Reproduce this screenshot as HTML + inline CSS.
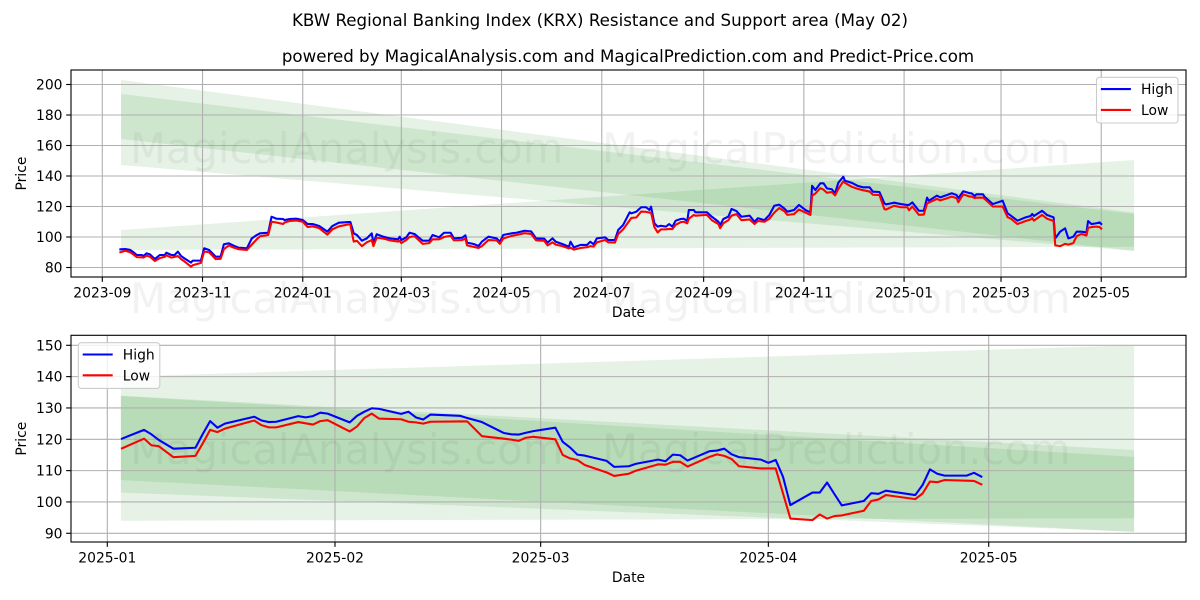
<!DOCTYPE html>
<html lang="en">
<head>
<meta charset="utf-8">
<title>KBW Regional Banking Index (KRX) Resistance and Support area</title>
<style>
html,body{margin:0;padding:0;background:#fff;width:1200px;height:600px;overflow:hidden}
svg{display:block}
text{font-family:"DejaVu Sans","Liberation Sans",sans-serif;fill:#000}
</style>
</head>
<body>
<svg id="fig" width="1200" height="600" viewBox="0 0 1200 600" xmlns="http://www.w3.org/2000/svg">
  <rect x="0" y="0" width="1200" height="600" fill="#fff"/>
  <text x="600" y="26" font-size="16.67" text-anchor="middle">KBW Regional Banking Index (KRX) Resistance and Support area (May 02)</text>
  <text x="628" y="62" font-size="16.67" text-anchor="middle">powered by MagicalAnalysis.com and MagicalPrediction.com and Predict-Price.com</text>
  <g id="top-axes"></g>
  <g id="bottom-axes"></g>
  <g font-size="41.67" opacity="0.07">
    <text x="130" y="163" style="fill:#555">MagicalAnalysis.com</text>
    <text x="602" y="163" style="fill:#555">MagicalPrediction.com</text>
    <text x="130" y="313" style="fill:#555">MagicalAnalysis.com</text>
    <text x="602" y="313" style="fill:#555">MagicalPrediction.com</text>
    <text x="130" y="464" style="fill:#555">MagicalAnalysis.com</text>
    <text x="602" y="464" style="fill:#555">MagicalPrediction.com</text>
  </g>
</svg>
<script>
// ---------- full-history chart data (days counted from 2023-09-01) ----------
const fullDays = [
 11,14,17,19,21,24,25,27,29,32,
 35,38,39,42,44,46,48,50,54,55,
 60,62,65,69,72,74,77,80,83,88,
 91,94,96,101,103,106,110,111,114,118,
 122,125,128,132,137,140,144,150,151,153,
 155,158,161,164,165,167,171,175,180,181,
 182,185,187,190,192,195,199,201,205,208,
 212,214,219,221,222,226,229,231,235,240,
 242,244,249,252,257,261,264,269,271,274,
 276,280,284,285,287,291,295,297,299,301,
 306,308,312,314,317,321,322,325,328,331,
 333,334,336,338,340,343,345,347,349,352,
 354,356,357,360,361,368,371,375,376,378,
 381,383,386,389,394,397,399,403,406,409,
 412,415,417,421,424,428,431,432,434,437,
 439,441,444,446,448,451,452,456,460,463,
 467,469,473,476,477,482,486,490,491,493,
 497,500,502,503,508,510,513,517,520,521,
 524,528,529,531,532,536,537,542,548,551,
 553,557,562,565,566,567,572,575,579,580,
 583,586,588,591,593,596,599,600,602,605,607,608];
const fullHigh = [
 91.9,92.1,91.5,90,88.2,88.2,87.5,89.3,88.6,85.6,
 88.2,88.2,89.7,88.2,88.2,90.4,87.5,86,83.2,84.5,
 84.5,92.6,91.5,87.1,87.1,95.2,95.9,94.3,93,92.6,
 99.1,101.3,102.4,102.8,113.3,112,111.8,111.1,111.8,112,
 111.1,108.5,108.5,107.2,103.5,107.2,109.4,109.8,109.8,102.4,
 101.3,97.6,99.1,102.4,95.9,101.8,100.2,99.1,98.5,100.2,
 98,99.8,102.8,102,100.2,97.6,97.6,101.3,99.8,102.8,
 102.8,99.1,99.5,101.1,96.3,95.4,94.1,96.9,100.2,99.1,
 96.9,101.3,102.4,102.8,104.1,103.7,99.1,98.9,96.3,99.1,
 96.9,95.4,93.6,96.9,93.2,94.8,94.8,96.9,95.2,99.1,
 99.8,98,98,104.6,107.9,116.2,115.5,116.6,119.5,119.5,
 117.7,119.9,109,106.8,107.4,106.8,108.5,106.8,110.7,111.8,
 112,110.5,117.7,117.7,116.2,116.2,113.3,110,107.9,111.8,
 113.3,118.4,117,113.3,114,110,112.3,111.1,114.4,120.5,
 121.2,118.8,116.6,117.7,121,117.7,116.2,133.6,130.8,135.2,
 135.2,131.9,131.3,128.7,135.6,139.5,136.9,135.6,133.4,132.6,
 132.6,129.7,129.5,122.1,121.4,122.5,121.6,121,121,122.7,
 117.2,117.2,125.8,123.8,127.1,126,127.1,128.7,127.5,125.4,
 130,128.7,128.7,126.9,128,128,126.4,121.6,123.8,115.5,
 114,110.7,112.9,113.8,115.1,113.8,117.2,114.4,112.9,99.1,
 103.5,105.7,99.1,100.2,103.5,103.5,103,110.5,108.5,109,109.6,108.5];
const fullLow = [
 90,91,90,88.5,86.8,86.7,86.5,87.8,87,84.3,
 86.2,87,88,86.5,87,87.5,85.5,84,80.5,81.5,
 83,90.5,90,85.5,85.7,92,94.5,93,92,91.5,
 95,98.5,100.5,101.3,110,109.5,108.5,109.5,110.5,110.8,
 110,106.5,107,105.8,101.5,105,107,108.3,108,97,
 97.5,94,96.5,98,94,99.5,99,97.8,97,97.5,
 96,98,100,100.5,98.5,95.5,96,98.5,98.5,100,
 100.8,97.8,98,99,94.5,93.5,92.8,94,98,97.8,
 95.5,99,100.7,101.3,102.5,102,97.8,97.5,94.5,96.5,
 95,94,92.5,93,91.7,92.8,93.3,94,93.7,96.5,
 98,96.5,96.3,102,105,111,112.5,112.8,116.7,116.5,
 116,116,106.5,103,105,105,105.3,105.2,108,109.7,
 110,109,112,114.5,114,114.5,111,108.5,105.8,109,
 111,114,115,111,111.5,108.5,110.5,110,112,116,
 119,117,114.5,115,118,116,114.5,127,128.5,132,
 131,129,129.5,127.3,131.5,136.5,135.5,133,131.5,130.7,
 129.8,127.7,127.5,118.3,118,120.5,119.5,119.5,117.5,120,
 114.5,114.7,122,122.5,125,124,125,126.5,125.5,122.8,
 128,126.5,126.5,125.5,125.8,125.8,125,120,120,113,
 112,108.5,110.5,111.5,112.5,110.7,114.5,112,110.5,94.5,
 94,95.5,95,96,100.5,102,101,106,106.5,106.8,106.5,105.5];

// band edges: [value at first day, value at last day]
const fullBandDays = [11.4, 628];
const fullSupportTop = [104.6, 150.5];
const fullSupportBottom = [91.5, 93.6];
const fullOuterTop = [203, 116];
const fullOuterBottom = [147.2, 90.8];
const fullInnerTop = [193.8, 115.1];
const fullInnerBottom = [164.3, 91];

const fullXTicks = ['2023-09','2023-11','2024-01','2024-03','2024-05','2024-07','2024-09','2024-11','2025-01','2025-03','2025-05'];
const fullYTicks = [80,100,120,140,160,180,200];

// ---------- recent chart data (days counted from 2025-01-01) ----------
const recentDays = [
 2,5,6,7,9,12,13,14,15,16,
 20,21,22,23,26,27,28,29,30,33,
 34,35,36,37,40,41,42,43,44,48,
 49,51,54,55,56,57,58,61,62,63,
 64,65,68,69,71,72,75,76,77,78,
 79,82,83,84,85,86,89,90,91,92,
 93,96,97,98,99,100,103,104,105,106,
 110,111,112,113,114,117,118,119];
const recentHigh = [
 120.2,123,121.6,119.8,117,117.3,121.7,125.8,123.7,125,
 127.2,126,125.5,125.6,127.4,127,127.4,128.5,128.2,125.4,
 127.5,128.8,129.9,129.7,128.1,128.8,127,126.3,127.9,127.5,
 126.8,125.5,122,121.6,121.5,122.1,122.6,123.7,119.2,117.4,
 115.1,114.8,113.1,111.2,111.4,112.2,113.5,113,115.1,114.9,
 113.2,116.2,116.4,117,115.2,114.3,113.5,112.5,113.4,108,
 99,103,103,106.2,102.5,98.9,100.3,102.8,102.6,103.6,
 102.2,105.4,110.4,109,108.4,108.4,109.3,108.1];
const recentLow = [
 117.1,120.2,118.1,117.8,114.3,114.7,118.7,123,122.3,123.4,
 126,124.5,123.8,123.8,125.5,125.1,124.7,125.8,126.1,122.5,
 124.1,126.8,128.2,126.6,126.4,125.6,125.4,125,125.6,125.7,
 125.7,121,120.2,119.9,119.5,120.5,120.8,120,115,113.9,
 113.4,111.8,109.4,108.3,109,110,112,111.9,112.8,112.8,
 111.3,114.4,115.2,114.7,113.7,111.4,110.7,110.7,110.7,102.7,
 94.7,94.2,96,94.7,95.5,95.7,97.2,100.3,100.8,102.2,
 100.9,102.7,106.5,106.3,107,106.8,106.7,105.6];

const recentBandDays = [1.85, 139.8];
const recentSupportTop = [140, 150];
const recentSupportBottom = [94, 94.8];
const recentOuterTop = [133.9, 116.6];
const recentOuterBottom = [103, 90.5];
const recentInnerTop = [133.8, 114.4];
const recentInnerBottom = [107, 90.4];

const recentXTicks = ['2025-01','2025-02','2025-03','2025-04','2025-05'];
const recentYTicks = [90,100,110,120,130,140,150];

// ---------- rendering ----------
const NS = 'http://www.w3.org/2000/svg';
function mk(parent, tag, attrs, txt) {
  const el = document.createElementNS(NS, tag);
  for (const k in attrs) el.setAttribute(k, attrs[k]);
  if (txt !== undefined) el.textContent = txt;
  parent.appendChild(el);
  return el;
}
function dayFrom(base, ym) {
  return Math.round((Date.parse(ym + '-01T00:00:00Z') - Date.parse(base + 'T00:00:00Z')) / 86400000);
}

const AXL = 71, AXR = 1186;

function drawBand(g, name, days, top, bottom, sx, sy) {
  const pts = [
    [sx(days[0]), sy(top[0])], [sx(days[1]), sy(top[1])],
    [sx(days[1]), sy(bottom[1])], [sx(days[0]), sy(bottom[0])]
  ];
  const el = mk(g, 'polygon', {
    points: pts.map(p => p[0].toFixed(2) + ',' + p[1].toFixed(2)).join(' '),
    fill: '#008000', 'fill-opacity': '0.1', stroke: 'none'
  });
  
  
}

function drawLine(g, name, days, vals, color, sx, sy) {
  const d = days.map((t, i) => (i ? 'L' : 'M') + sx(t).toFixed(2) + ' ' + sy(vals[i]).toFixed(2)).join('');
  const el = mk(g, 'path', {
    d: d, fill: 'none', stroke: color, 'stroke-width': '2.08',
    'stroke-linejoin': 'round', 'stroke-linecap': 'square'
  });
  
  
}

function drawAxes(c) {
  const g = document.getElementById(c.id);
  // bands
  drawBand(g, 'resistance-outer-band', c.bandDays, c.outerTop, c.outerBottom, c.sx, c.sy);
  drawBand(g, 'resistance-inner-band', c.bandDays, c.innerTop, c.innerBottom, c.sx, c.sy);
  drawBand(g, 'support-band', c.bandDays, c.supportTop, c.supportBottom, c.sx, c.sy);

  // x grid + ticks
  c.xTicks.forEach(function (lab) {
    const x = c.sx(dayFrom(c.base, lab));
    const gl = mk(g, 'line', { x1: x, x2: x, y1: c.top, y2: c.bottom, stroke: '#b0b0b0', 'stroke-width': '1.11' });
    
    
    const tk = mk(g, 'line', { x1: x, x2: x, y1: c.bottom, y2: c.bottom + 4.86, stroke: '#000', 'stroke-width': '1.11' });
    
    
    const tl = mk(g, 'text', { x: x, y: c.bottom + 20.5, 'font-size': '13.89', 'text-anchor': 'middle' }, lab);
    
    
  });
  // y grid + ticks
  c.yTicks.forEach(function (v) {
    const y = c.sy(v);
    const gl = mk(g, 'line', { x1: AXL, x2: AXR, y1: y, y2: y, stroke: '#b0b0b0', 'stroke-width': '1.11' });
    
    
    const tk = mk(g, 'line', { x1: AXL - 4.86, x2: AXL, y1: y, y2: y, stroke: '#000', 'stroke-width': '1.11' });
    
    
    const tl = mk(g, 'text', { x: AXL - 8.5, y: y + 5, 'font-size': '13.89', 'text-anchor': 'end' }, String(v));
    
    
  });

  // series
  drawLine(g, 'high-line', c.days, c.high, '#0000ff', c.sx, c.sy);
  drawLine(g, 'low-line', c.days, c.low, '#ff0000', c.sx, c.sy);

  // frame
  const fr = mk(g, 'rect', { x: AXL, y: c.top, width: AXR - AXL, height: c.bottom - c.top, fill: 'none', stroke: '#000', 'stroke-width': '1.11' });
  
  

  // axis titles
  const xt = mk(g, 'text', { x: (AXL + AXR) / 2, y: c.bottom + 40, 'font-size': '13.89', 'text-anchor': 'middle' }, 'Date');
  
  
  const cy = (c.top + c.bottom) / 2;
  const yt = mk(g, 'text', { x: 26, y: cy, 'font-size': '13.89', 'text-anchor': 'middle', transform: 'rotate(-90 26 ' + cy + ')' }, 'Price');
  
  

  // legend
  const lg = mk(g, 'g', {});
  
  
  const box = mk(lg, 'rect', { x: c.legX, y: c.legY, width: 81.5, height: 45.7, rx: 3, ry: 3, fill: '#fff', 'fill-opacity': '0.8', stroke: '#ccc', 'stroke-width': '1.11' });
  
  
  [['High', '#0000ff', 11.8], ['Low', '#ff0000', 32.6]].forEach(function (e) {
    const sw = mk(lg, 'line', { x1: c.legX + 4.4, x2: c.legX + 34.4, y1: c.legY + e[2], y2: c.legY + e[2], stroke: e[1], 'stroke-width': '2.08' });
    
    
    const t = mk(lg, 'text', { x: c.legX + 44.5, y: c.legY + e[2] + 5, 'font-size': '13.89' }, e[0]);
    
    
  });
}

drawAxes({
  id: 'top-axes', base: '2023-09-01', top: 70, bottom: 277,
  sx: d => 102.3 + 1.643 * d,
  sy: v => 237 - (v - 100) * 1.525,
  days: fullDays, high: fullHigh, low: fullLow,
  bandDays: fullBandDays,
  supportTop: fullSupportTop, supportBottom: fullSupportBottom,
  outerTop: fullOuterTop, outerBottom: fullOuterBottom,
  innerTop: fullInnerTop, innerBottom: fullInnerBottom,
  xTicks: fullXTicks, yTicks: fullYTicks,
  legX: 1096.5, legY: 77.3
});
drawAxes({
  id: 'bottom-axes', base: '2025-01-01', top: 335.3, bottom: 542,
  sx: d => 107.3 + 7.345 * d,
  sy: v => 345.3 + (150 - v) * 3.133,
  days: recentDays, high: recentHigh, low: recentLow,
  bandDays: recentBandDays,
  supportTop: recentSupportTop, supportBottom: recentSupportBottom,
  outerTop: recentOuterTop, outerBottom: recentOuterBottom,
  innerTop: recentInnerTop, innerBottom: recentInnerBottom,
  xTicks: recentXTicks, yTicks: recentYTicks,
  legX: 78.3, legY: 342.7
});
</script>
</body>
</html>
